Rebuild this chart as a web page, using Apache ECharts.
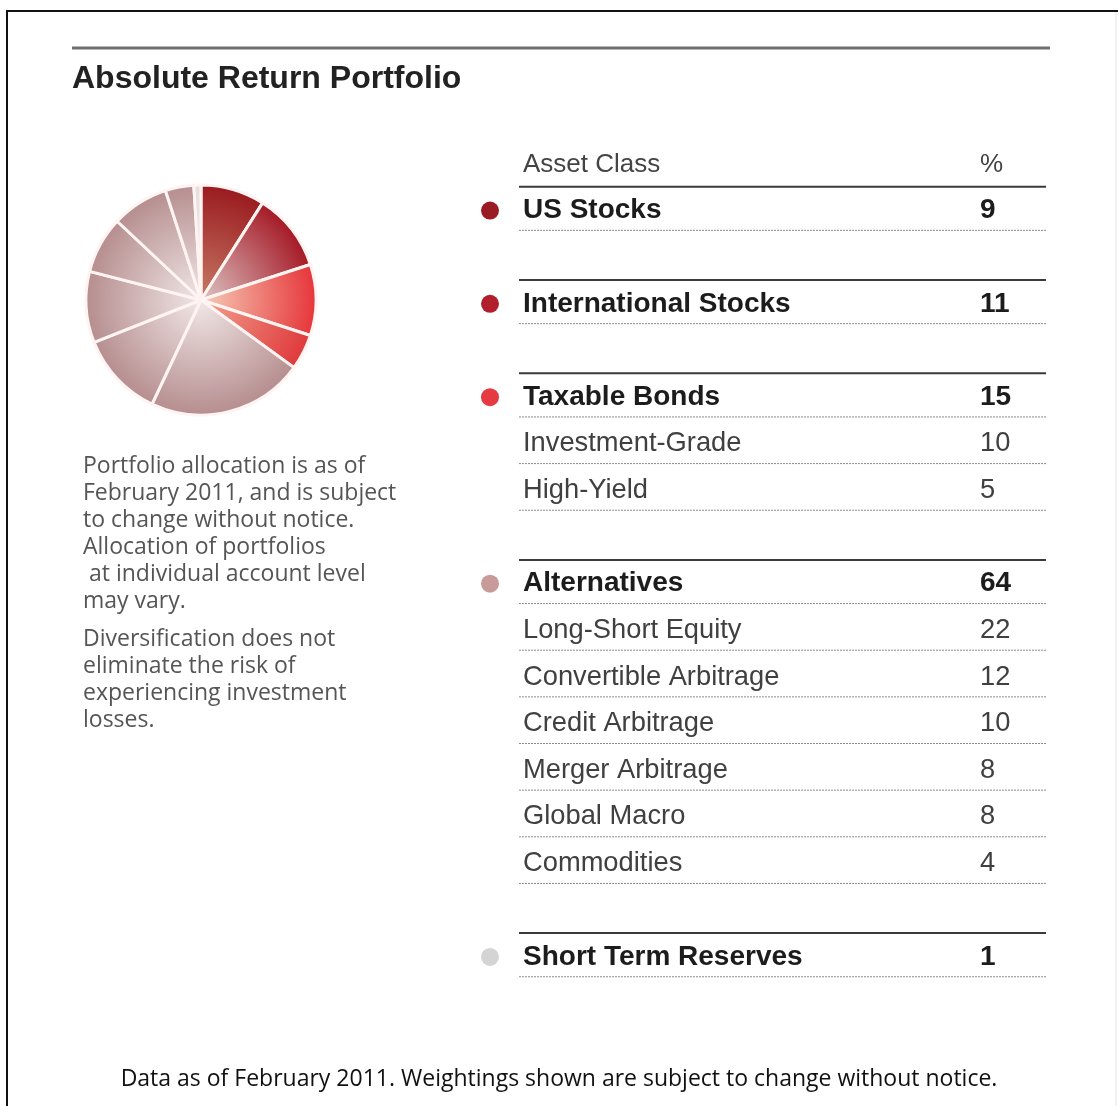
<!DOCTYPE html>
<html>
<head>
<meta charset="utf-8">
<script src="https://cdn.jsdelivr.net/npm/echarts@6/dist/echarts.min.js"></script>
<style>
  html, body { margin: 0; padding: 0; background: #fff; }
  #chart { width: 1118px; height: 1106px; }
</style>
</head>
<body>
<div id="chart"></div>
<script>
// asset classes and weights (%)
const assetClasses = ['US Stocks', 'International Stocks', 'Taxable Bonds', 'Alternatives', 'Short Term Reserves'];
const assetWeights = [9, 11, 15, 64, 1];
const bondNames = ['Investment-Grade', 'High-Yield'];
const bondWeights = [10, 5];
const altNames = ['Long-Short Equity', 'Convertible Arbitrage', 'Credit Arbitrage', 'Merger Arbitrage', 'Global Macro', 'Commodities'];
const altWeights = [22, 12, 10, 8, 8, 4];
const dotColors = ['#9b1b22', '#b01f2b', '#e63a42', '#c89a9a', '#d4d4d4'];

const notes1 = ['Portfolio allocation is as of', 'February 2011, and is subject', 'to change without notice.', 'Allocation of portfolios', ' at individual account level', 'may vary.'];
const notes2 = ['Diversification does not', 'eliminate the risk of', 'experiencing investment', 'losses.'];

const pieCx = 201, pieCy = 300, pieR = 115;

// inner / outer colours of each slice gradient
const grad = {
  us: ['#c77a66', '#9a1b1f'],
  intl: ['#ddc4c4', '#a51a26'],
  ig: ['#f6cdb8', '#e6363a'],
  hy: ['#f3a08f', '#df3a3c'],
  alt: ['#f1e7e7', '#b68e8f'],
  cash: ['#f7f1f1', '#e6dede']
};
function radial(c) {
  return {
    type: 'radial', x: pieCx, y: pieCy, r: pieR, global: true,
    colorStops: [{ offset: 0, color: c[0] }, { offset: 1, color: c[1] }]
  };
}

const pieData = [];
pieData.push({ name: assetClasses[0], value: assetWeights[0], itemStyle: { color: radial(grad.us) } });
pieData.push({ name: assetClasses[1], value: assetWeights[1], itemStyle: { color: radial(grad.intl) } });
bondNames.forEach((n, i) => pieData.push({ name: n, value: bondWeights[i], itemStyle: { color: radial(i === 0 ? grad.ig : grad.hy) } }));
altNames.forEach((n, i) => pieData.push({ name: n, value: altWeights[i], itemStyle: { color: radial(grad.alt) } }));
pieData.push({ name: assetClasses[4], value: assetWeights[4], itemStyle: { color: radial(grad.cash) } });

// table layout
const sections = [
  { rows: [[assetClasses[0], assetWeights[0]]] },
  { rows: [[assetClasses[1], assetWeights[1]]] },
  { rows: [[assetClasses[2], assetWeights[2]]].concat(bondNames.map((n, i) => [n, bondWeights[i]])) },
  { rows: [[assetClasses[3], assetWeights[3]]].concat(altNames.map((n, i) => [n, altWeights[i]])) },
  { rows: [[assetClasses[4], assetWeights[4]]] }
];

const FONT = '"Liberation Sans", Arial, sans-serif';
const tableTop = 186.7, rowH = 46.65, lineX1 = 519, lineX2 = 1046, labelX = 523, valueX = 980, dotX = 490;

function txt(text, x, y, font, fill, align) {
  return {
    type: 'text', silent: true,
    style: { text: text, x: x, y: y, font: font, fill: fill, textAlign: align || 'left', textVerticalAlign: 'middle', align: align || 'left', verticalAlign: 'middle' }
  };
}
function line(x1, y1, x2, y2, stroke, w, dash) {
  return {
    type: 'line', silent: true,
    shape: { x1: x1, y1: y1, x2: x2, y2: y2 },
    style: { stroke: stroke, lineWidth: w, lineDash: dash || null }
  };
}

const g = [];
// frame
g.push(line(7, 11, 1118, 11, '#111', 2));
g.push(line(7, 10, 7, 1106, '#111', 2));
g.push(line(1116, 12, 1116, 1106, '#e4e4e4', 1));
// title rule + title
g.push(line(72, 48, 1050, 48, '#6f6f6f', 3));
g.push(txt('Absolute Return Portfolio', 72, 79, 'bold 32px ' + FONT, '#222'));

// table header
g.push(txt('Asset Class', labelX, 165, '26px ' + FONT, '#444'));
g.push(txt('%', valueX, 165, '26px ' + FONT, '#444'));

let slot = 0;
sections.forEach((sec, si) => {
  const yTop = tableTop + slot * rowH;
  g.push(line(lineX1, yTop, lineX2, yTop, '#3a3a3a', 2));
  sec.rows.forEach((r, i) => {
    const yc = yTop + (i + 0.5) * rowH + 0.5;
    const bold = i === 0;
    const font = (bold ? 'bold 28px ' : '27.3px ') + FONT;
    const col = bold ? '#1c1c1c' : '#404040';
    g.push(txt(r[0], labelX, yc, font, col));
    g.push(txt(String(r[1]), valueX, yc, font, col));
    const yd = yTop + (i + 1) * rowH - 3;
    g.push(line(lineX1, yd, lineX2, yd, '#8a8a8a', 1, [2, 1]));
    if (bold) {
      g.push({ type: 'circle', silent: true, shape: { cx: dotX, cy: yc, r: 9 }, style: { fill: dotColors[si] } });
    }
  });
  slot += sec.rows.length + 1;
});

// side notes
const NOTE = '23px "Open Sans", ' + FONT;
notes1.forEach((t, i) => g.push(txt(t, 83, 466 + i * 27, NOTE, '#555')));
notes2.forEach((t, i) => g.push(txt(t, 83, 639 + i * 27, NOTE, '#555')));

// footer
g.push(txt('Data as of February 2011. Weightings shown are subject to change without notice.', 559, 1079, '23px "Open Sans", ' + FONT, '#111', 'center'));

const chart = echarts.init(document.getElementById('chart'), null, { renderer: 'canvas' });
chart.setOption({
  backgroundColor: '#ffffff',
  animation: false,
  series: [{
    type: 'pie',
    silent: true,
    center: [pieCx, pieCy],
    radius: [0, pieR],
    startAngle: 90,
    clockwise: true,
    label: { show: false },
    labelLine: { show: false },
    itemStyle: { borderColor: '#fff4f2', borderWidth: 3 },
    emphasis: { disabled: true },
    data: pieData
  }],
  graphic: g
});
</script>
</body>
</html>
